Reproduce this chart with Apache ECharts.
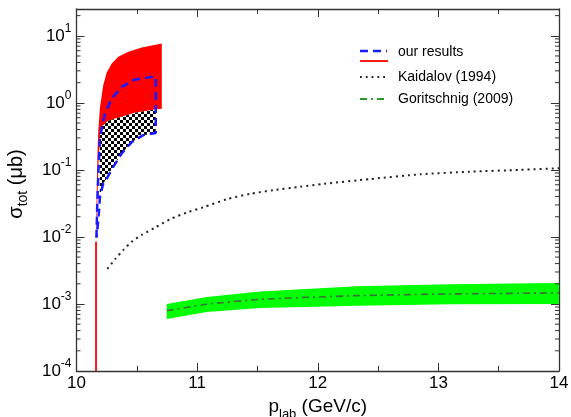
<!DOCTYPE html>
<html>
<head>
<meta charset="utf-8">
<script src="https://cdn.jsdelivr.net/npm/echarts@6/dist/echarts.min.js"></script>
<style>
html, body { margin: 0; padding: 0; background: #fff; }
#chart { width: 571px; height: 417px; }
</style>
</head>
<body>
<div id="chart"></div>
<script>
// x range and log y range
const xTicks = [10, 11, 12, 13, 14];
const yMin = 1e-4;
const yMax = 25.12;

// our results: red band (upper / lower edge)
const redUpper = [[10.162, 0.0085], [10.168, 0.05], [10.175, 0.2], [10.181, 0.39], [10.195, 0.87], [10.222, 1.84], [10.25, 2.82], [10.292, 3.87], [10.347, 4.86], [10.43, 5.77], [10.541, 6.7], [10.707, 7.7]];
const redLower = [[10.162, 0.0085], [10.17, 0.02], [10.18, 0.1], [10.195, 0.35], [10.209, 0.44], [10.264, 0.54], [10.347, 0.6], [10.485, 0.71], [10.665, 0.8], [10.707, 0.82]];
// red vertical line at threshold
const redLine = [[10.162, 1e-4], [10.162, 0.0085]];

// checkered region
const checkTop = [[10.193, 0.33], [10.209, 0.44], [10.264, 0.54], [10.347, 0.6], [10.485, 0.71], [10.6, 0.77], [10.657, 0.8]];
const checkBottom = [[10.193, 0.04], [10.222, 0.063], [10.25, 0.074], [10.305, 0.111], [10.375, 0.176], [10.458, 0.26], [10.554, 0.33], [10.657, 0.356]];

// blue dashed contour
const blueContour = [[10.165, 0.0097], [10.172, 0.03], [10.182, 0.1], [10.195, 0.31], [10.236, 0.69], [10.292, 1.16], [10.375, 1.73], [10.485, 2.23], [10.6, 2.4], [10.657, 2.45], [10.657, 0.356], [10.554, 0.33], [10.458, 0.26], [10.375, 0.176], [10.305, 0.111], [10.25, 0.074], [10.222, 0.063], [10.195, 0.04], [10.181, 0.0178], [10.167, 0.0101]];

// Kaidalov (1994)
const kaiX = [10.256, 10.32, 10.389, 10.458, 10.541, 10.651, 10.776, 10.914, 11.052, 11.246, 11.44, 11.633, 11.855, 12.05, 12.436, 12.85, 13.266, 13.68, 14.0];
const kaiY = [3.33e-3, 4.65e-3, 6.4e-3, 8.5e-3, 1.07e-2, 1.38e-2, 1.84e-2, 2.31e-2, 2.77e-2, 3.65e-2, 4.39e-2, 5.0e-2, 5.6e-2, 6.2e-2, 7.3e-2, 8.6e-2, 9.4e-2, 0.1, 0.106];

// Goritschnig (2009)
const gorX = [10.748, 11.08, 11.523, 12.325, 13.10, 14.0];
const gorUpper = [1.0e-3, 1.27e-3, 1.54e-3, 1.83e-3, 1.96e-3, 2.06e-3];
const gorLower = [5.97e-4, 7.6e-4, 8.7e-4, 9.4e-4, 9.9e-4, 1.0e-3];
const gorCentral = [7.9e-4, 9.9e-4, 1.17e-3, 1.33e-3, 1.41e-3, 1.46e-3];

const FONT = "'Liberation Sans', Arial, sans-serif";
const AXIS = '#333';

// checker pattern
const pat = document.createElement('canvas');
pat.width = 6; pat.height = 6;
const pctx = pat.getContext('2d');
pctx.fillStyle = '#fff'; pctx.fillRect(0, 0, 6, 6);
pctx.fillStyle = '#000'; pctx.fillRect(0, 0, 3, 3); pctx.fillRect(3, 3, 3, 3);

function band(name, upper, lower, fill, z) {
    return {
        name: name,
        type: 'custom',
        z: z,
        clip: true,
        data: [upper[0]],
        renderItem: function (params, api) {
            const pts = upper.map(p => api.coord(p))
                .concat(lower.slice().reverse().map(p => api.coord(p)));
            return { type: 'polygon', shape: { points: pts }, style: { fill: fill, stroke: null } };
        }
    };
}

// log minor ticks (2..9 per decade) on left and right edge
const minorVals = [];
for (let d = -4; d <= 1; d++) {
    for (let k = 2; k <= 9; k++) {
        const v = k * Math.pow(10, d);
        if (v < yMax) minorVals.push(v);
    }
}

const chart = echarts.init(document.getElementById('chart'));

const option = {
    animation: false,
    grid: { left: 76.5, right: 12, top: 9, bottom: 46, outerBoundsMode: 'none', containLabel: false },
    xAxis: [
        {
            type: 'value', min: 10, max: 14, interval: 1,
            axisLine: { lineStyle: { color: AXIS, width: 1.3 } },
            axisTick: { inside: true, length: 8, lineStyle: { color: AXIS } },
            minorTick: { show: true, splitNumber: 2, length: 5, lineStyle: { color: AXIS } },
            splitLine: { show: false },
            axisLabel: { color: '#000', fontSize: 17, fontFamily: FONT, margin: 4 },
            name: '{a|p}{s|lab}{a| (GeV/c)}',
            nameLocation: 'middle',
            nameGap: 22,
            nameTextStyle: {
                rich: {
                    a: { fontSize: 19, fontFamily: FONT, color: '#000', lineHeight: 28 },
                    s: { fontSize: 13, fontFamily: FONT, color: '#000', lineHeight: 13, verticalAlign: 'bottom' }
                }
            }
        },
        {
            type: 'value', min: 10, max: 14, interval: 1, position: 'top',
            axisLine: { onZero: false, lineStyle: { color: AXIS, width: 1.3 } },
            axisTick: { inside: true, length: 8, lineStyle: { color: AXIS } },
            minorTick: { show: true, splitNumber: 2, length: 5, lineStyle: { color: AXIS } },
            splitLine: { show: false },
            axisLabel: { show: false }
        }
    ],
    yAxis: [
        {
            type: 'log', logBase: 10, min: yMin, max: yMax, splitNumber: 5,
            axisLine: { show: true, lineStyle: { color: AXIS, width: 1.3 } },
            axisTick: { inside: true, length: 8, lineStyle: { color: AXIS } },
            splitLine: { show: false },
            axisLabel: {
                margin: 5,
                formatter: function (v) {
                    const e = Math.log10(v);
                    if (Math.abs(e - Math.round(e)) > 1e-6) return '';
                    return '{b|10}{e|' + Math.round(e) + '}';
                },
                rich: {
                    b: { fontSize: 17, fontFamily: FONT, color: '#000', lineHeight: 26 },
                    e: { fontSize: 12, fontFamily: FONT, color: '#000', lineHeight: 12, verticalAlign: 'top' }
                }
            },
            name: '{a|σ}{s|tot}{a| (μb)}',
            nameLocation: 'middle',
            nameRotate: 90,
            nameGap: 46,
            nameTextStyle: {
                padding: [0, 0, 0, 12],
                rich: {
                    a: { fontSize: 20, fontFamily: FONT, color: '#000', lineHeight: 28 },
                    s: { fontSize: 14, fontFamily: FONT, color: '#000', lineHeight: 14, verticalAlign: 'bottom' }
                }
            }
        },
        {
            type: 'log', logBase: 10, min: yMin, max: yMax, splitNumber: 5, position: 'right',
            axisLine: { show: true, onZero: false, lineStyle: { color: AXIS, width: 1.3 } },
            axisTick: { inside: true, length: 8, lineStyle: { color: AXIS } },
            splitLine: { show: false },
            axisLabel: { show: false }
        }
    ],
    graphic: [
        { type: 'line', shape: { x1: 360, y1: 51, x2: 387, y2: 51 }, style: { stroke: '#1a1aff', lineWidth: 2.5, lineDash: [8, 5] } },
        { type: 'line', shape: { x1: 360, y1: 61, x2: 388, y2: 61 }, style: { stroke: '#ff1a1a', lineWidth: 2 } },
        { type: 'text', x: 398, y: 52, style: { text: 'our results', font: '14px ' + FONT, fill: '#000', verticalAlign: 'middle' } },
        { type: 'line', shape: { x1: 360, y1: 77, x2: 387, y2: 77 }, style: { stroke: '#222', lineWidth: 1.8, lineDash: [1.8, 4] } },
        { type: 'text', x: 398, y: 77, style: { text: 'Kaidalov (1994)', font: '14px ' + FONT, fill: '#000', verticalAlign: 'middle' } },
        { type: 'line', shape: { x1: 360, y1: 99, x2: 387, y2: 99 }, style: { stroke: '#2a9a2a', lineWidth: 2, lineDash: [7, 4, 2, 4] } },
        { type: 'text', x: 398, y: 99, style: { text: 'Goritschnig (2009)', font: '14px ' + FONT, fill: '#000', verticalAlign: 'middle' } }
    ],
    series: [
        band('red band', redUpper, redLower, '#ff0000', 2),
        band('checker', checkTop, checkBottom, { image: pat, repeat: 'repeat' }, 3),
        {
            name: 'our results', type: 'line', z: 4, data: blueContour, showSymbol: false,
            lineStyle: { color: '#1a1aff', width: 2.5, type: [8, 5] }
        },
        {
            name: 'threshold', type: 'line', z: 4, data: redLine, showSymbol: false,
            lineStyle: { color: '#ff1a1a', width: 2 }
        },
        {
            name: 'Kaidalov (1994)', type: 'line', z: 4, showSymbol: false, smooth: 0.2,
            data: kaiX.map((x, i) => [x, kaiY[i]]),
            lineStyle: { color: '#222', width: 2, type: [2, 4] }
        },
        band('Goritschnig band', gorX.map((x, i) => [x, gorUpper[i]]), gorX.map((x, i) => [x, gorLower[i]]), '#00ff00', 2),
        {
            name: 'Goritschnig (2009)', type: 'line', z: 4, showSymbol: false, smooth: 0.2,
            data: gorX.map((x, i) => [x, gorCentral[i]]),
            lineStyle: { color: '#3a6e3a', width: 1.6, type: [7, 4, 2, 4] }
        },
        {
            name: 'minor ticks', type: 'custom', z: 5, clip: false, silent: true,
            data: [[10, 1]],
            renderItem: function (params, api) {
                const children = [];
                minorVals.forEach(v => {
                    const l = api.coord([10, v]);
                    const r = api.coord([14, v]);
                    children.push({ type: 'line', shape: { x1: l[0], y1: l[1], x2: l[0] + 4, y2: l[1] }, style: { stroke: AXIS, lineWidth: 1 } });
                    children.push({ type: 'line', shape: { x1: r[0], y1: r[1], x2: r[0] - 4, y2: r[1] }, style: { stroke: AXIS, lineWidth: 1 } });
                });
                return { type: 'group', children: children };
            }
        }
    ]
};

chart.setOption(option);
</script>
</body>
</html>
